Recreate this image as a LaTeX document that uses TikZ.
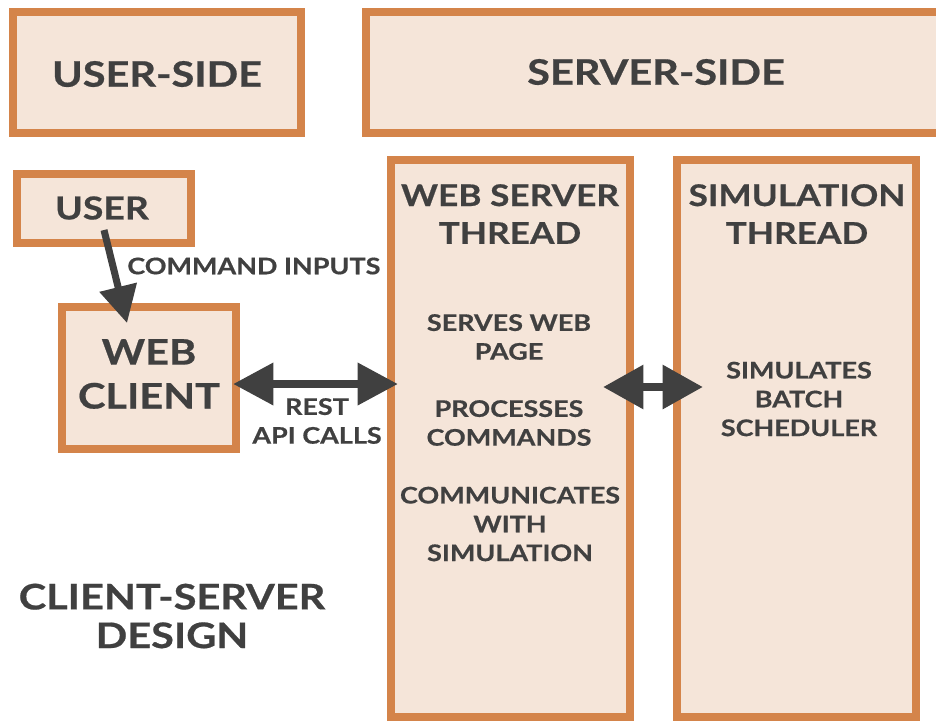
\documentclass[tikz,border=0pt]{standalone}
\usepackage{fontspec}
\setmainfont{Lato}[FakeStretch=1.18, BoldFeatures={FakeBold=0.6}]
\usepackage{xcolor}
\usepackage{tikz}
\usetikzlibrary{arrows.meta}

\definecolor{boxline}{HTML}{D4844A}
\definecolor{boxfill}{HTML}{F5E5D9}
\definecolor{ink}{HTML}{404040}

\begin{document}
\begin{tikzpicture}[x=0.02cm, y=-0.02cm]
			\useasboundingbox (0, 0) rectangle (936, 721);
			
			\draw[draw=boxline, fill=boxfill, line width=4.5pt] (13, 12) rectangle (301, 133);
			\draw[draw=boxline, fill=boxfill, line width=4.5pt] (366, 12) rectangle (950, 133);
			\draw[draw=boxline, fill=boxfill, line width=4.5pt] (17, 174) rectangle (191, 243);
			\draw[draw=boxline, fill=boxfill, line width=4.5pt] (62, 307) rectangle (236, 449);
			\draw[draw=boxline, fill=boxfill, line width=4.5pt] (391, 160) rectangle (630, 717);
			\draw[draw=boxline, fill=boxfill, line width=4.5pt] (677, 160) rectangle (916, 717);
			
			\begin{scope}[
				txt/.style={align=center, text=ink, font=\bfseries\fontsize{20}{25}\selectfont, inner sep=0pt},
				headtxt/.style={txt, font=\bfseries\fontsize{17}{21.5}\selectfont},
				smalltxt/.style={txt, font=\bfseries\fontsize{13}{16.4}\selectfont}]
				\node[txt] (USERSIDE) at (157, 74) {USER-SIDE};
				\node[txt] (SERVERSIDE) at (656, 72) {SERVER-SIDE};
				\node[txt, font=\bfseries\fontsize{18}{22}\selectfont] (USER) at (102, 208) {USER};
				\node[txt] (CLIENT) at (149, 374) {WEB\\CLIENT};
				\node[headtxt] (WSERVER) at (510, 214) {WEB SERVER\\THREAD};
				\node[headtxt] (SIM) at (797, 214) {SIMULATION\\THREAD};
				\node[smalltxt, anchor=west] (CMD) at (127, 266) {COMMAND INPUTS};
				\node[smalltxt] (REST) at (317, 421) {REST\\API CALLS};
				\node[smalltxt] (SERVES) at (509, 337) {SERVES WEB\\PAGE};
				\node[smalltxt] (PROC) at (509, 423) {PROCESSES\\COMMANDS};
				\node[smalltxt] (COMM) at (510, 524) {COMMUNICATES\\WITH\\SIMULATION};
				\node[smalltxt] (BATCH) at (799, 399) {SIMULATES\\BATCH\\SCHEDULER};
				\node[txt, font=\bfseries\fontsize{20}{22}\selectfont] (DESIGN) at (172, 616) {CLIENT-SERVER\\DESIGN};
			\end{scope}
			
			\coordinate (U1) at (104, 230);
			\coordinate (U2) at (127, 323);
			\coordinate (R1) at (233, 384);
			\coordinate (R2) at (398, 384);
			\coordinate (S1) at (603, 387);
			\coordinate (S2) at (703, 387);
			
			\draw[draw=ink, line width=4pt, -{Triangle[width=21pt, length=21pt]}] (U1) -- (U2);
			\draw[draw=ink, line width=5pt, {Triangle[width=23pt, length=23pt]}-{Triangle[width=23pt, length=23pt]}] (R1) -- (R2);
			\draw[draw=ink, line width=5pt, {Triangle[width=24pt, length=23pt]}-{Triangle[width=24pt, length=23pt]}] (S1) -- (S2);
		\end{tikzpicture}
\end{document}
